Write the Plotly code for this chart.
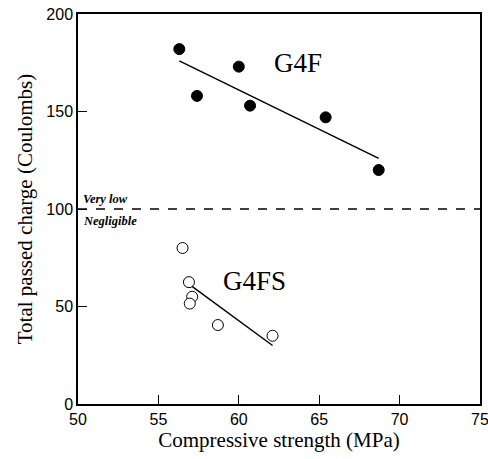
import plotly.graph_objects as go

g4f_x = [56.3, 57.4, 60.0, 60.7, 65.4, 68.7]
g4f_y = [182, 158, 173, 153, 147, 120]
g4f_fit_x = [56.3, 68.7]
g4f_fit_y = [176, 126]

g4fs_x = [56.5, 56.9, 57.1, 56.95, 58.7, 62.1]
g4fs_y = [80, 62.5, 55, 51.5, 40.5, 35]
g4fs_fit_x = [56.9, 62.1]
g4fs_fit_y = [61.5, 30]

threshold = 100
x_ticks = [50, 55, 60, 65, 70, 75]
y_ticks = [0, 50, 100, 150, 200]

serif = "Liberation Serif, Times New Roman, serif"
sans = "Liberation Sans, Arial, sans-serif"

fig = go.Figure()
fig.add_trace(go.Scatter(x=[50, 75], y=[threshold, threshold], mode="lines",
                         line=dict(color="black", width=1.5, dash="dash"), showlegend=False))
fig.add_trace(go.Scatter(x=g4f_fit_x, y=g4f_fit_y, mode="lines",
                         line=dict(color="black", width=1.5), showlegend=False))
fig.add_trace(go.Scatter(x=g4fs_fit_x, y=g4fs_fit_y, mode="lines",
                         line=dict(color="black", width=1.5), showlegend=False))
fig.add_trace(go.Scatter(x=g4f_x, y=g4f_y, mode="markers",
                         marker=dict(size=11, color="black", line=dict(color="black", width=1)),
                         showlegend=False))
fig.add_trace(go.Scatter(x=g4fs_x, y=g4fs_y, mode="markers",
                         marker=dict(size=11, color="white", line=dict(color="black", width=1)),
                         showlegend=False))

fig.add_annotation(x=63.7, y=175, text="G4F", showarrow=False,
                   font=dict(family=serif, size=27, color="black"))
fig.add_annotation(x=61.0, y=63, text="G4FS", showarrow=False,
                   font=dict(family=serif, size=27, color="black"))
fig.add_annotation(x=50.2, y=105, text="<b><i>Very low</i></b>", showarrow=False,
                   xanchor="left", font=dict(family=serif, size=12.5, color="black"))
fig.add_annotation(x=50.2, y=94, text="<b><i>Negligible</i></b>", showarrow=False,
                   xanchor="left", font=dict(family=serif, size=12.5, color="black"))

fig.update_layout(
    width=488, height=459,
    margin=dict(l=78, r=8, t=14, b=55),
    plot_bgcolor="white", paper_bgcolor="white",
    xaxis=dict(range=[50, 75], tickvals=x_ticks, ticks="inside", ticklen=9,
               tickcolor="black", showline=True, linecolor="black", linewidth=1.5,
               mirror=True, showgrid=False, zeroline=False, automargin=False,
               ticklabeloverflow="allow",
               tickfont=dict(family=sans, size=16, color="black"),
               title=dict(text="Compressive strength (MPa)", standoff=5,
                          font=dict(family=serif, size=21, color="black"))),
    yaxis=dict(range=[0, 200], tickvals=y_ticks, ticks="inside", ticklen=9,
               tickcolor="black", showline=True, linecolor="black", linewidth=1.5,
               mirror=True, showgrid=False, zeroline=False, automargin=False,
               ticklabeloverflow="allow",
               tickfont=dict(family=sans, size=16, color="black"),
               title=dict(text="Total passed charge (Coulombs)", standoff=8,
                          font=dict(family=serif, size=21, color="black"))),
)

fig.write_html("out.html", config={"displayModeBar": False},
               post_script="document.body.style.margin='0';")
